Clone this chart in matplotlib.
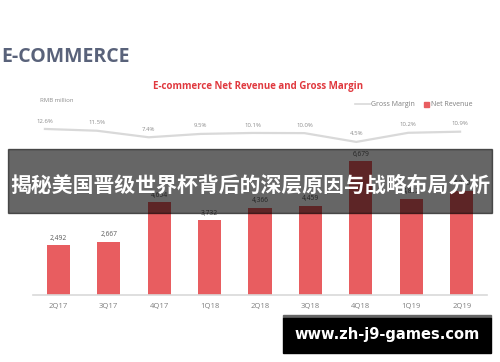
import matplotlib
matplotlib.use("Agg")
import matplotlib.pyplot as plt
from matplotlib.patches import Rectangle

quarters = ["2Q17", "3Q17", "4Q17", "1Q18", "2Q18", "3Q18", "4Q18", "1Q19", "2Q19"]
net_revenue = [2492, 2667, 4654, 3732, 4366, 4459, 6679, 4812, 5210]
gross_margin = [12.6, 11.5, 7.4, 9.5, 10.1, 10.0, 4.5, 10.2, 10.9]

W, H = 500, 362
fig = plt.figure(figsize=(5, 3.62), dpi=100)
plt.rcParams['font.family'] = ['Open Sans', 'DejaVu Sans']


def box(x0, y0, x1, y1):
    # pixel box (top-left origin) -> figure fraction rect
    return [x0 / W, 1 - y1 / H, (x1 - x0) / W, (y1 - y0) / H]


# bars
ax = fig.add_axes(box(33, 150, 487, 295))
x = range(len(quarters))
ax.bar(x, net_revenue, width=0.46, color='#e85d60', zorder=2)
for i, v in zip(x, net_revenue):
    ax.text(i, v + 170, f"{v:,}", ha='center', va='bottom', fontsize=4.8, color='#595959')
ax.set_xlim(-0.5, 8.5)
ax.set_ylim(0, 7250)
ax.set_xticks(list(x))
ax.set_xticklabels(quarters, fontsize=5.5, color='#7f7f7f')
ax.tick_params(axis='x', length=0, pad=6)
ax.set_yticks([])
for s in ['top', 'right', 'left']:
    ax.spines[s].set_visible(False)
ax.spines['bottom'].set_color('#d9d9d9')
ax.spines['bottom'].set_linewidth(1.2)
ax.patch.set_alpha(0)

# gross margin line
ax2 = fig.add_axes(box(19, 100, 486, 160))
ax2.plot(x, gross_margin, color='#d9d9d9', lw=1.6, solid_joinstyle='round')
for i, v in zip(x, gross_margin):
    ax2.text(i, v + 3.4, f"{v}%", ha='center', va='bottom', fontsize=4.3, color='#8c8c8c')
ax2.set_xlim(-0.5, 8.5)
ax2.set_ylim(-6.8, 30.7)
ax2.axis('off')

# titles and legend
fig.text(1 / W, 1 - 57 / H, "E-COMMERCE", fontsize=14, fontweight='bold', color='#59627a',
         ha='left', va='center')
fig.text(258 / W, 1 - 87 / H, "E-commerce Net Revenue and Gross Margin", fontsize=7,
         fontweight='bold', color='#e0393f', ha='center', va='center')
fig.text(40 / W, 1 - 101 / H, "RMB million", fontsize=4.3, color='#8c8c8c', ha='left', va='center')
fig.add_artist(plt.Line2D([355 / W, 370 / W], [1 - 104 / H, 1 - 104 / H], color='#d9d9d9', lw=1.2))
fig.text(371 / W, 1 - 104 / H, "Gross Margin", fontsize=5, color='#7f7f7f', ha='left', va='center')
fig.patches.append(Rectangle((424 / W, 1 - 106.5 / H), 4.5 / W, 4.5 / H,
                             transform=fig.transFigure, color='#e85d60'))
fig.text(431 / W, 1 - 104 / H, "Net Revenue", fontsize=5, color='#7f7f7f', ha='left', va='center')

# overlay banner
b = box(8, 149, 492, 213)
fig.patches.append(Rectangle((b[0], b[1]), b[2], b[3], transform=fig.transFigure,
                             color='black', alpha=0.6, zorder=5))
fig.text(250 / W, 1 - 185 / H, "揭秘美国晋级世界杯背后的深层原因与战略布局分析", fontsize=15,
         fontweight='bold', color='white', ha='center', va='center', zorder=6,
         family=['Noto Sans CJK SC', 'DejaVu Sans'])

# watermark
g = box(283, 315, 491, 318)
fig.patches.append(Rectangle((g[0], g[1]), g[2], g[3], transform=fig.transFigure,
                             color='#666666', zorder=5))
k = box(283, 318, 491, 353)
fig.patches.append(Rectangle((k[0], k[1]), k[2], k[3], transform=fig.transFigure,
                             color='black', zorder=5))
fig.text(387 / W, 1 - 335 / H, "www.zh-j9-games.com", fontsize=10.5, fontweight='bold',
         color='white', ha='center', va='center', zorder=6, family=['DejaVu Sans'])

fig.savefig("out.png", dpi=100)
